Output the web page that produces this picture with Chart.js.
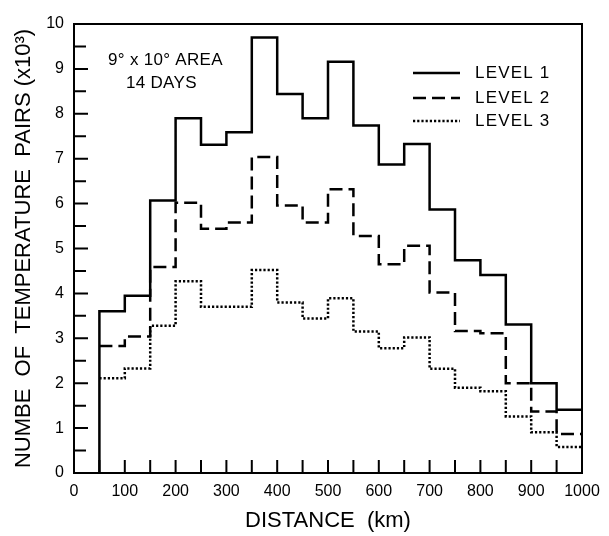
<!DOCTYPE html>
<html>
<head>
<meta charset="utf-8">
<script src="https://cdn.jsdelivr.net/npm/chart.js@4/dist/chart.umd.min.js"></script>
<style>
  body { margin: 0; background: #fff; }
  canvas { display: block; }
</style>
</head>
<body>
<canvas id="histChart" width="609" height="536"></canvas>
<script>
// left edge of each 50 km bin, last bin closes at 1000 km
const binStarts = [50, 100, 150, 200, 250, 300, 350, 400, 450, 500, 550, 600, 650, 700, 750, 800, 850, 900, 950];
const binEnd = 1000;

// number of temperature pairs (x10^3) per bin
const level1 = [3.6, 3.95, 6.07, 7.9, 7.31, 7.59, 9.7, 8.44, 7.9, 9.16, 7.74, 6.87, 7.33, 5.87, 4.74, 4.41, 3.31, 2.0, 1.41];
const level2 = [2.83, 3.04, 4.59, 6.02, 5.44, 5.58, 7.04, 5.96, 5.58, 6.32, 5.28, 4.65, 5.06, 4.02, 3.16, 3.11, 2.0, 1.37, 0.87];
const level3 = [2.11, 2.33, 3.28, 4.27, 3.7, 3.7, 4.52, 3.8, 3.44, 3.89, 3.15, 2.78, 3.02, 2.32, 1.9, 1.82, 1.26, 0.91, 0.58];

const seriesNames = ['LEVEL 1', 'LEVEL 2', 'LEVEL 3'];
const xTicks = [0, 100, 200, 300, 400, 500, 600, 700, 800, 900, 1000];
const yTicks = [0, 1, 2, 3, 4, 5, 6, 7, 8, 9, 10];
const noteLines = ['9° x 10° AREA', '14 DAYS'];

const FONT = '"Liberation Sans", Arial, sans-serif';

function stepPoints(values, fromZero) {
    const pts = binStarts.map((x, i) => ({ x: x, y: values[i] }));
    pts.push({ x: binEnd, y: values[values.length - 1] });
    if (fromZero) pts.unshift({ x: binStarts[0], y: 0 });
    return pts;
}

// frame, inward ticks, legend and note
const decorPlugin = {
    id: 'decor',
    afterDraw(chart) {
        const ctx = chart.ctx;
        const a = chart.chartArea;
        const xs = chart.scales.x;
        const ys = chart.scales.y;
        ctx.save();
        ctx.strokeStyle = '#000';
        ctx.lineWidth = 2;
        ctx.strokeRect(a.left, a.top, a.right - a.left, a.bottom - a.top);

        ctx.beginPath();
        for (let v = 50; v < 1000; v += 50) {
            const px = xs.getPixelForValue(v);
            ctx.moveTo(px, a.bottom);
            ctx.lineTo(px, a.bottom - 13);
        }
        for (let v = 0.5; v < 10; v += 0.5) {
            const py = ys.getPixelForValue(v);
            ctx.moveTo(a.left, py);
            ctx.lineTo(a.left + (v % 1 === 0 ? 14 : 12), py);
        }
        ctx.stroke();

        // legend
        ctx.fillStyle = '#000';
        ctx.font = '17px ' + FONT;
        ctx.letterSpacing = '1.2px';
        ctx.textBaseline = 'middle';
        const rows = [73, 98, 121];
        chart.data.datasets.forEach((ds, i) => {
            ctx.beginPath();
            ctx.lineWidth = ds.borderWidth;
            ctx.setLineDash(ds.borderDash || []);
            ctx.moveTo(413, rows[i]);
            ctx.lineTo(460, rows[i]);
            ctx.stroke();
            ctx.setLineDash([]);
            ctx.fillText(ds.label, 475, rows[i]);
        });

        // note
        ctx.font = '17px ' + FONT;
        ctx.letterSpacing = '0.3px';
        ctx.fillText(noteLines[0], 108, 60);
        ctx.fillText(noteLines[1], 126, 83);
        ctx.restore();
    }
};

const ctx = document.getElementById('histChart').getContext('2d');
new Chart(ctx, {
    type: 'line',
    data: {
        datasets: [
            { label: seriesNames[0], data: stepPoints(level1, true), borderColor: '#000', borderWidth: 2.5, borderDash: [] },
            { label: seriesNames[1], data: stepPoints(level2, false), borderColor: '#000', borderWidth: 2.5, borderDash: [13, 6] },
            { label: seriesNames[2], data: stepPoints(level3, false), borderColor: '#000', borderWidth: 2.5, borderDash: [2.2, 2] }
        ]
    },
    options: {
        responsive: false,
        animation: false,
        elements: { point: { radius: 0 }, line: { stepped: true, tension: 0 } },
        layout: { padding: { top: 24, right: 27, left: 0, bottom: 0 } },
        plugins: { legend: { display: false }, tooltip: { enabled: false } },
        scales: {
            x: {
                type: 'linear',
                min: 0,
                max: 1000,
                afterBuildTicks: s => { s.ticks = xTicks.map(v => ({ value: v })); },
                afterFit: s => { s.height = 63; },
                grid: { display: false, drawTicks: false },
                border: { display: false },
                ticks: { color: '#000', font: { family: FONT, size: 16 }, padding: 9, maxRotation: 0, autoSkip: false, callback: v => String(v) },
                title: { display: true, text: 'DISTANCE  (km)', color: '#000', font: { family: FONT, size: 22 }, padding: { top: 0, bottom: 2 } }
            },
            y: {
                min: 0,
                max: 10,
                afterBuildTicks: s => { s.ticks = yTicks.map(v => ({ value: v })); },
                afterFit: s => { s.width = 74; },
                grid: { display: false, drawTicks: false },
                border: { display: false },
                ticks: { color: '#000', font: { family: FONT, size: 16 }, padding: 10, callback: v => String(v) },
                title: { display: true, text: 'NUMBE  OF  TEMPERATURE  PAIRS (x10³)', color: '#000', font: { family: FONT, size: 22 }, padding: { top: 11, bottom: 0 } }
            }
        }
    },
    plugins: [decorPlugin]
});
</script>
</body>
</html>
